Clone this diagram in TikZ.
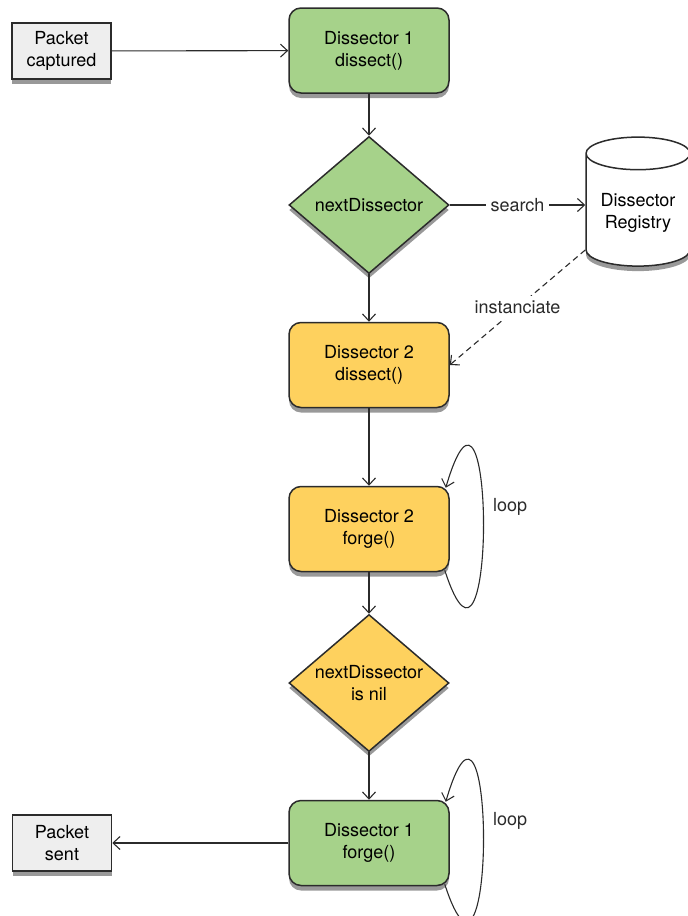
\documentclass[tikz,border=0pt]{standalone}
\usepackage{fontspec}
\setmainfont{TeX Gyre Heros}
\usetikzlibrary{arrows.meta,shapes.geometric,shadows}

\definecolor{boxgreen}{HTML}{A6D28A}
\definecolor{boxyellow}{HTML}{FED15E}
\definecolor{boxgray}{HTML}{EEEEEE}
\definecolor{edgeline}{HTML}{2B2B2B}

\begin{document}
\begin{tikzpicture}[x=1pt, y=-1pt,
    every node/.style={font=\fontsize{18}{22}\selectfont},
    softshadow/.style={drop shadow={shadow xshift=0pt, shadow yshift=-5pt, opacity=0.4, fill=black}},
    proc/.style={draw=edgeline, line width=1.5pt, rounded corners=12pt, minimum width=160pt, minimum height=85pt, align=center, softshadow},
    io/.style={draw=edgeline, line width=1.5pt, fill=boxgray, minimum width=99pt, minimum height=56pt, align=center, softshadow},
    decide/.style={diamond, draw=edgeline, line width=1.5pt, aspect=1.18, inner sep=0pt, minimum width=160pt, minimum height=137pt, align=center, softshadow},
    store/.style={cylinder, shape border rotate=90, aspect=0.4, draw=edgeline, line width=1.5pt, fill=white, minimum width=104pt, minimum height=129pt, align=center, softshadow},
    arr/.style={-{Straight Barb[length=7pt,width=13pt]}, line width=1.1pt, edgeline},
    lbl/.style={fill=white, inner sep=5pt}
]
\useasboundingbox (0,0) rectangle (688,916);

\node[io] (captured) at (61.5,51) {Packet\\captured};
\node[proc, fill=boxgreen] (dissect1) at (369,50.5) {Dissector 1\\dissect()};
\node[decide, fill=boxgreen] (next) at (369,205) {nextDissector};
\node[store] (registry) at (638,213) {Dissector\\Registry};
\node[proc, fill=boxyellow] (dissect2) at (369,365) {Dissector 2\\dissect()};
\node[proc, fill=boxyellow] (forge2) at (369,529) {Dissector 2\\forge()};
\node[decide, fill=boxyellow] (isnil) at (369,683) {nextDissector\\is nil};
\node[proc, fill=boxgreen] (forge1) at (369,843) {Dissector 1\\forge()};
\node[io] (sent) at (62,843) {Packet\\sent};

\draw[arr] (captured) -- (dissect1);
\draw[arr] (dissect1) -- (next);
\draw[arr] (next.east) -- node[lbl] {search} (next.east -| registry.west);
\draw[arr, dash pattern=on 6pt off 4pt] ([yshift=-37pt]registry.west) -- node[lbl] {instanciate} (dissect2.east);
\draw[arr] (next) -- (dissect2);
\draw[arr] (dissect2) -- (forge2);
\draw[arr] ([shift={(-5pt,2pt)}]forge2.south east) .. controls +(52,160) and +(50,-170) .. ([shift={(-4pt,-2pt)}]forge2.north east)
    node[pos=0.55, right=6pt] {loop};
\draw[arr] (forge2) -- (isnil);
\draw[arr] (isnil) -- (forge1);
\draw[arr] ([shift={(-5pt,2pt)}]forge1.south east) .. controls +(52,160) and +(50,-170) .. ([shift={(-4pt,-2pt)}]forge1.north east)
    node[pos=0.55, right=6pt] {loop};
\draw[arr] (forge1) -- (sent);
\end{tikzpicture}
\end{document}
